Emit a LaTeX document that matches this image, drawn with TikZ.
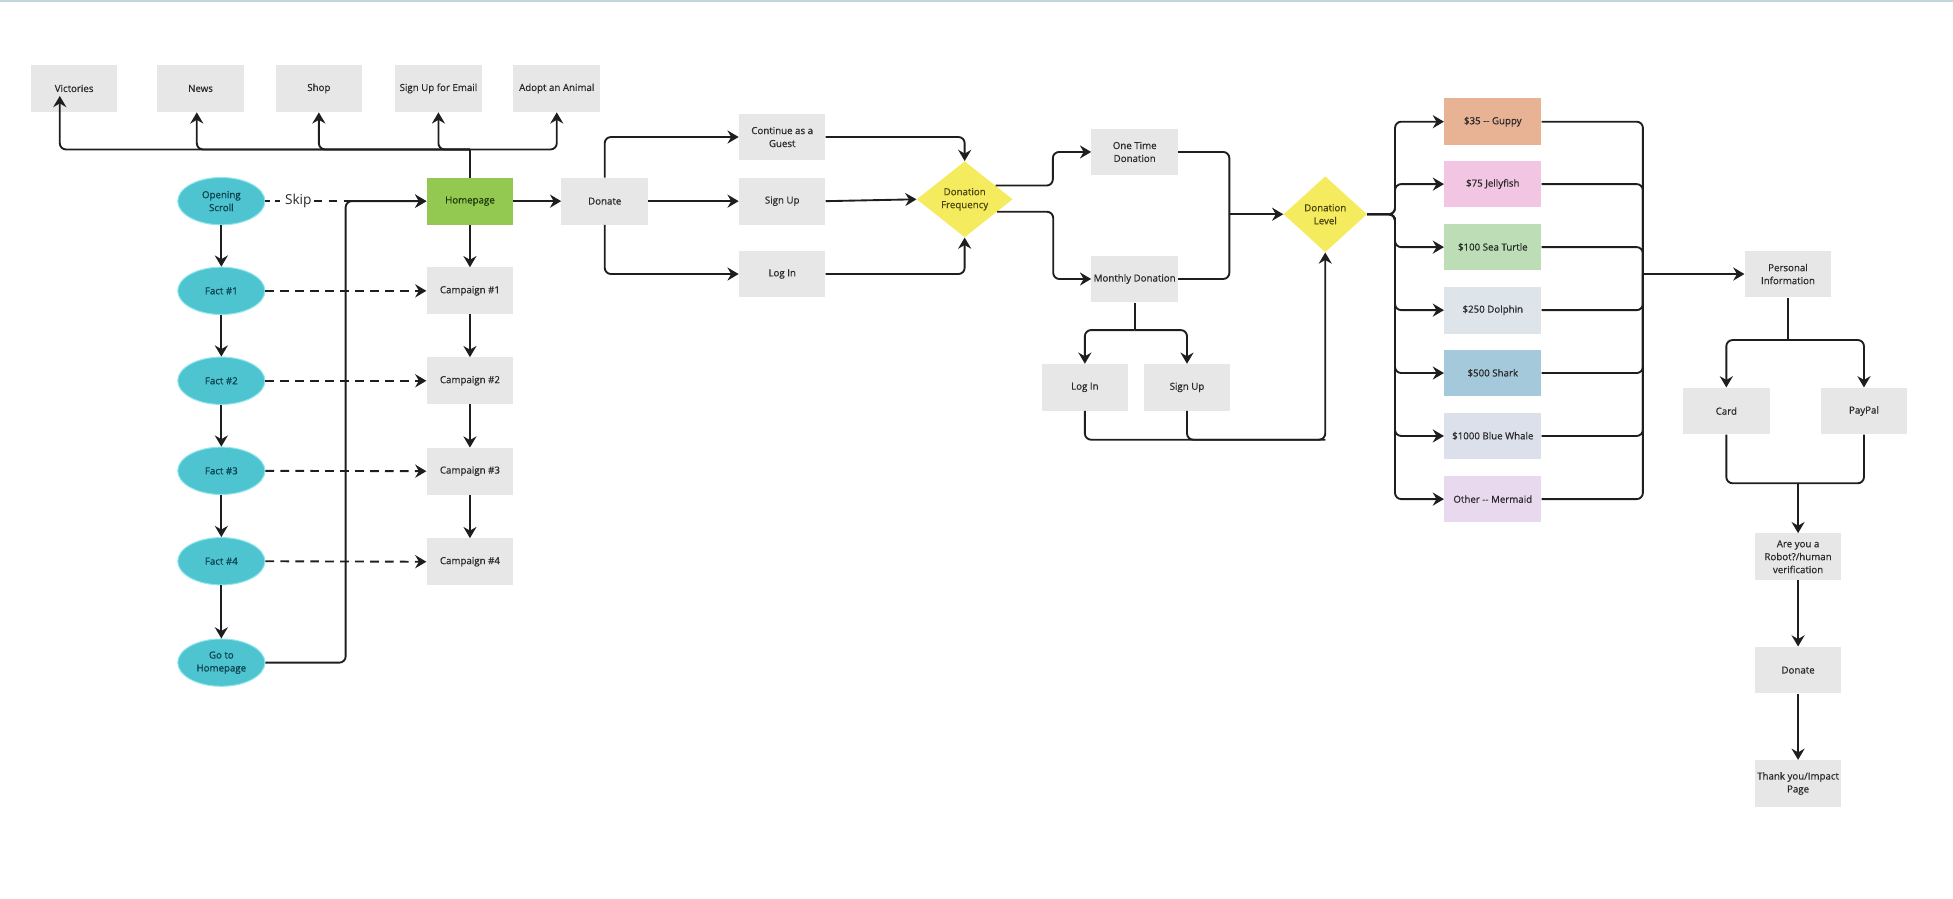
\documentclass[tikz,border=0pt]{standalone}
\usepackage{fontspec}
\setmainfont{Open Sans}
\newfontfamily\boxfam{Open Sans}[FakeBold=0.6]
\usetikzlibrary{arrows.meta,shapes.geometric,calc}
\definecolor{boxgray}{HTML}{E7E7E7}
\definecolor{txt}{HTML}{2A2A2A}
\definecolor{linec}{HTML}{1E1E1E}
\definecolor{greenbox}{HTML}{93C851}
\definecolor{greentxt}{HTML}{1E3A0C}
\definecolor{tealc}{HTML}{4EC4D0}
\definecolor{tealb}{HTML}{8FE6EE}
\definecolor{tealtxt}{HTML}{0B3F4C}
\definecolor{yel}{HTML}{F5EB5E}
\definecolor{yeltxt}{HTML}{4A4510}
\definecolor{lvA}{HTML}{E8B295}
\definecolor{lvB}{HTML}{F2C5E2}
\definecolor{lvC}{HTML}{BCDDB6}
\definecolor{lvD}{HTML}{DDE5EB}
\definecolor{lvE}{HTML}{A4C9DA}
\definecolor{lvF}{HTML}{DCE0EB}
\definecolor{lvG}{HTML}{E9D9EE}
\definecolor{topline}{HTML}{C3D7DA}
\newcommand\boxfont{\boxfam\fontsize{7.8}{10.4}\selectfont}
\newcommand\skipfont{\fontsize{11}{13}\selectfont}
\begin{document}
\begin{tikzpicture}[x=1pt,y=-1pt,
  box/.style={rectangle, fill=boxgray, minimum width=69.5pt, minimum height=37.5pt, inner sep=1pt, align=center, text=txt, font=\boxfont},
  lvbox/.style={box, minimum width=78pt},
  pill/.style={ellipse, fill=tealc, draw=tealb, line width=0.8pt, minimum width=70pt, minimum height=38pt, inner sep=0pt, align=center, text=tealtxt, font=\boxfont},
  dia/.style={diamond, fill=yel, inner sep=0pt, align=center, text=yeltxt, font=\boxfont},
  conn/.style={line width=1.5pt, draw=linec, rounded corners=5pt},
  arr/.style={conn, -{Stealth[length=9pt,width=10.5pt,inset=3pt]}},
  dasharr/.style={arr, dash pattern=on 7pt off 5pt}]
\useasboundingbox (0,0) rectangle (1568,721);
\fill[topline] (0,0) rectangle (1568,1.3);

% top row
\node[box, minimum height=38pt] (vic) at (59.5,71) {Victories};
\node[box, minimum height=38pt] (news) at (161,71) {News};
\node[box, minimum height=38pt] (shop) at (256,71) {Shop};
\node[box, minimum height=38pt] (email) at (352,71) {Sign Up for Email};
\node[box, minimum height=38pt] (adopt) at (447,71) {Adopt an Animal};

% left column
\node[pill] (os) at (177.7,161.5) {Opening\\Scroll};
\node[pill] (f1) at (177.7,233.5) {Fact \#1};
\node[pill] (f2) at (177.7,305.7) {Fact \#2};
\node[pill] (f3) at (177.7,378) {Fact \#3};
\node[pill] (f4) at (177.7,450.6) {Fact \#4};
\node[pill] (goh) at (177.7,532) {Go to\\Homepage};

\node[box, fill=greenbox, text=greentxt] (hp) at (377.3,161.5) {Homepage};
\node[box] (c1) at (377.3,233.5) {Campaign \#1};
\node[box] (c2) at (377.3,305.7) {Campaign \#2};
\node[box] (c3) at (377.3,378.3) {Campaign \#3};
\node[box] (c4) at (377.3,451) {Campaign \#4};

\node[box] (don) at (485.5,161.5) {Donate};
\node[box] (guest) at (628,110) {Continue as a\\Guest};
\node[box] (signup) at (628,161.5) {Sign Up};
\node[box] (login) at (628,220) {Log In};
\node[dia, minimum width=77pt, minimum height=61pt] (df) at (774.5,160) {Donation\\Frequency};

\node[box] (ot) at (911,122) {One Time\\Donation};
\node[box] (md) at (911,224) {Monthly Donation};
\node[box] (li2) at (871,311) {Log In};
\node[box] (su2) at (953,311) {Sign Up};
\node[dia, minimum width=67pt, minimum height=61pt] (dl) at (1064,172) {Donation\\Level};

\node[lvbox, fill=lvA] (l1) at (1198.5,97.7) {\$35 {-}{-} Guppy};
\node[lvbox, fill=lvB] (l2) at (1198.5,147.8) {\$75 Jellyfish};
\node[lvbox, fill=lvC] (l3) at (1198.5,198.4) {\$100 Sea Turtle};
\node[lvbox, fill=lvD] (l4) at (1198.5,249) {\$250 Dolphin};
\node[lvbox, fill=lvE] (l5) at (1198.5,299.5) {\$500 Shark};
\node[lvbox, fill=lvF] (l6) at (1198.5,350) {\$1000 Blue Whale};
\node[lvbox, fill=lvG] (l7) at (1198.5,400.7) {Other {-}{-} Mermaid};

\node[box] (pi) at (1435.5,220) {Personal\\Information};
\node[box] (card) at (1386,330) {Card};
\node[box] (paypal) at (1496.5,330) {PayPal};
\node[box] (robot) at (1443.6,447) {Are you a\\Robot?/human\\verification};
\node[box] (don2) at (1443.6,538) {Donate};
\node[box] (thanks) at (1443.6,629) {Thank you/Impact\\Page};

% top bus
\coordinate (hub) at (377.3,120);
\coordinate (victip) at (48,77);
\draw[conn] (hp.north) -- (hub);
\draw[arr] (hub) -| (victip);
\draw[arr] (hub) -| ([xshift=-3pt]news.south);
\draw[arr] (hub) -| (shop.south);
\draw[arr] (hub) -| (email.south);
\draw[arr] (hub) -| (adopt.south);

% skip and left column
\node[font=\skipfont, text=txt, inner sep=1.5pt] (skip) at (239.5,161.5) {Skip};
\draw[conn, dash pattern=on 4pt off 4pt] (os.east) -- (skip.west);
\draw[dasharr] (skip.east) -- (hp.west);
\coordinate (gjoin) at (277.5,532);
\draw[arr] (goh.east) -- (gjoin) |- (hp.west);
\draw[arr] (os) -- (f1);
\draw[arr] (f1) -- (f2);
\draw[arr] (f2) -- (f3);
\draw[arr] (f3) -- (f4);
\draw[arr] (f4) -- (goh);
\draw[dasharr] (f1.east) -- (c1.west);
\draw[dasharr] (f2.east) -- (c2.west);
\draw[dasharr] (f3.east) -- (c3.west);
\draw[dasharr] (f4.east) -- (c4.west);
\draw[arr] (hp) -- (c1);
\draw[arr] (c1) -- (c2);
\draw[arr] (c2) -- (c3);
\draw[arr] (c3) -- (c4);
\draw[arr] (hp.east) -- (don.west);

% donate branch
\draw[arr] (don.north) |- (guest.west);
\draw[arr] (don.east) -- (signup.west);
\draw[arr] (don.south) |- (login.west);
\draw[arr] (guest.east) -| (df.north);
\draw[arr] (signup.east) -- (df.west);
\draw[arr] (login.east) -| (df.south);

% frequency
\draw[arr] (df.24) -- ++(46,0) |- (ot.west);
\draw[arr] (df.-21) -- ++(45,0) |- (md.west);
\coordinate (mj) at (987,172);
\draw[conn] (ot.east) -| (mj);
\draw[conn] (md.east) -| (mj);
\draw[arr] (mj) -- (dl.west);
\coordinate (ms) at (911,265);
\draw[conn] (md.south) -- (ms);
\draw[arr] (ms) -| (li2.north);
\draw[arr] (ms) -| (su2.north);
\coordinate (lsb) at (1064,353);
\draw[arr] (li2.south) |- (lsb) -- (dl.south);
\draw[conn] (su2.south) |- (lsb);

% levels
\coordinate (lb) at (1120,172);
\foreach \n in {l1,l2,l3,l4,l5,l6,l7}{
  \draw[arr] (dl.east) -- (lb) |- (\n.west);
}
\coordinate (rb) at (1319,220);
\foreach \n in {l1,l2,l3,l4,l5,l6,l7}{
  \draw[conn] (\n.east) -| (rb);
}
\draw[arr] (rb) -- (pi.west);

% payment
\coordinate (ps) at (1435.5,273);
\draw[conn] (pi.south) -- (ps);
\draw[arr] (ps) -| (card.north);
\draw[arr] (ps) -| (paypal.north);
\coordinate (cj) at (1443.6,388);
\draw[conn] (card.south) |- (cj);
\draw[conn] (paypal.south) |- (cj);
\draw[arr] (cj) -- (robot.north);
\draw[arr] (robot.south) -- (don2.north);
\draw[arr] (don2.south) -- (thanks.north);
\end{tikzpicture}
\end{document}
